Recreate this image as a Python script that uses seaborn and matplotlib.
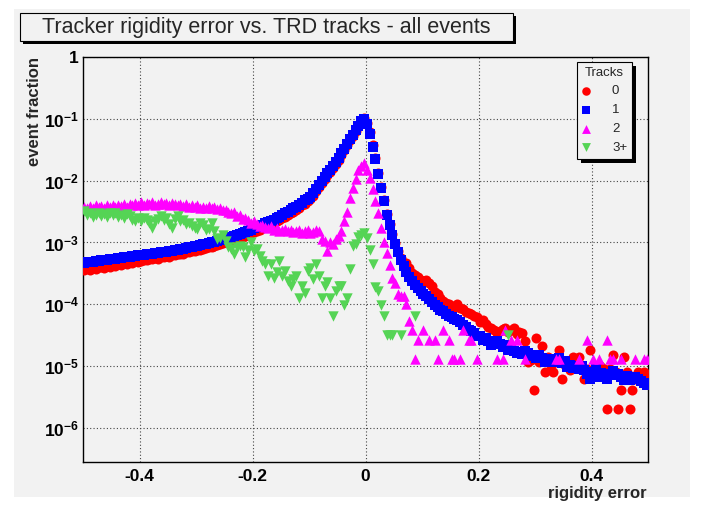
import numpy as np
import pandas as pd
import matplotlib
matplotlib.use("Agg")
import matplotlib.pyplot as plt
import seaborn as sns
from matplotlib.patches import Rectangle
from matplotlib.ticker import FixedLocator, NullFormatter, FuncFormatter, MultipleLocator

N = np.nan

# ---- histogram binning (200 bins over rigidity error -0.5 .. 0.5) ----
bin_edges = np.linspace(-0.5, 0.5, 201)
bin_centers = 0.5 * (bin_edges[:-1] + bin_edges[1:])

# ---- event fraction per bin, stored as log10(value); NaN = empty bin ----
tracks0_log10 = [
    -3.45, -3.42, -3.44, -3.41, -3.43, -3.40, -3.39, -3.41, -3.38, -3.39,
    -3.36, -3.38, -3.35, -3.36, -3.33, -3.35, -3.32, -3.33, -3.30, -3.31,
    -3.30, -3.28, -3.29, -3.27, -3.27, -3.25, -3.26, -3.24, -3.24, -3.22,
    -3.23, -3.21, -3.21, -3.19, -3.19, -3.18, -3.16, -3.16, -3.14, -3.14,
    -3.12, -3.12, -3.10, -3.09, -3.08, -3.07, -3.06, -3.04, -3.03, -3.01,
    -3.00, -2.98, -2.98, -2.95, -2.95, -2.92, -2.91, -2.89, -2.87, -2.85,
    -2.83, -2.81, -2.79, -2.77, -2.75, -2.72, -2.71, -2.68, -2.66, -2.63,
    -2.61, -2.58, -2.55, -2.53, -2.50, -2.47, -2.44, -2.40, -2.37, -2.33,
    -2.30, -2.24, -2.17, -2.11, -2.04, -1.97, -1.91, -1.86, -1.80, -1.73,
    -1.66, -1.58, -1.50, -1.42, -1.35, -1.27, -1.19, -1.11, -1.03, -0.99,
    -1.06, -1.22, -1.42, -1.63, -1.88, -2.10, -2.31, -2.54, -2.70, -2.86,
    -3.01, -3.14, -3.25, -3.35, -3.33, -3.42, -3.50, -3.53, -3.56, -3.60,
    -3.62, -3.60, -3.66, -3.70, -3.80, -3.83, -3.90, -3.95, -3.98, -4.00,
    -4.03, -4.04, -4.00, -4.06, -4.08, -4.12, -4.14, -4.16, -4.19, -4.20,
    -4.29, -4.26, -4.32, -4.36, -4.38, -4.42, -4.46, -4.43, -4.40, -4.38,
    -4.45, -4.42, -4.38, -4.48, -4.45, -4.47, -4.60, -4.93, -4.90, -5.39,
    -4.55, -4.93, -4.68, -5.09, -4.85, -4.98, -5.09, -4.93, -4.74, -5.20,
    -4.98, -4.93, -5.07, -4.85, -4.93, -4.85, -5.04, -5.20, -5.04, -4.74,
    -5.09, -5.04, -4.98, -5.01, -5.04, -5.69, -5.04, -4.82, -5.09, -5.69,
    -5.39, -4.85, -5.09, -5.69, -5.39, -5.20, -5.09, -5.15, -5.09, -5.20,
]
tracks1_log10 = [
    -3.33, -3.32, -3.32, -3.31, -3.30, -3.30, -3.29, -3.28, -3.28, -3.27,
    -3.26, -3.26, -3.25, -3.25, -3.24, -3.24, -3.23, -3.22, -3.22, -3.21,
    -3.21, -3.20, -3.19, -3.19, -3.18, -3.17, -3.17, -3.16, -3.15, -3.15,
    -3.14, -3.13, -3.12, -3.12, -3.11, -3.10, -3.09, -3.08, -3.07, -3.06,
    -3.05, -3.04, -3.03, -3.02, -3.01, -3.00, -2.99, -2.97, -2.96, -2.95,
    -2.93, -2.92, -2.91, -2.89, -2.88, -2.86, -2.85, -2.83, -2.81, -2.79,
    -2.77, -2.75, -2.73, -2.71, -2.69, -2.67, -2.65, -2.63, -2.61, -2.58,
    -2.56, -2.53, -2.50, -2.48, -2.45, -2.42, -2.39, -2.36, -2.32, -2.29,
    -2.26, -2.20, -2.13, -2.07, -2.00, -1.94, -1.88, -1.83, -1.77, -1.70,
    -1.63, -1.56, -1.48, -1.40, -1.33, -1.26, -1.18, -1.11, -1.04, -1.00,
    -1.08, -1.25, -1.45, -1.65, -1.90, -2.12, -2.33, -2.56, -2.72, -2.88,
    -3.03, -3.16, -3.28, -3.38, -3.47, -3.55, -3.62, -3.68, -3.73, -3.79,
    -3.84, -3.87, -3.91, -3.97, -4.01, -4.05, -4.09, -4.11, -4.15, -4.19,
    -4.20, -4.23, -4.26, -4.28, -4.33, -4.36, -4.41, -4.43, -4.47, -4.51,
    -4.52, -4.57, -4.55, -4.60, -4.66, -4.63, -4.60, -4.64, -4.69, -4.66,
    -4.74, -4.72, -4.76, -4.78, -4.77, -4.80, -4.76, -4.79, -4.84, -4.82,
    -4.86, -4.82, -4.87, -4.93, -4.88, -4.90, -4.93, -4.89, -4.87, -4.95,
    -4.92, -5.01, -4.98, -5.03, -4.99, -5.04, -5.00, -5.06, -5.12, -5.20,
    -5.10, -5.05, -5.17, -5.11, -5.14, -5.20, -5.13, -5.08, -5.15, -5.12,
    -5.18, -5.23, -5.16, -5.23, -5.19, -5.17, -5.20, -5.24, -5.28, -5.31,
]
tracks2_log10 = [
    -2.42, -2.45, -2.41, -2.44, -2.40, -2.43, -2.41, -2.44, -2.39, -2.42,
    -2.40, -2.43, -2.39, -2.41, -2.37, -2.42, -2.38, -2.40, -2.36, -2.39,
    -2.35, -2.39, -2.36, -2.38, -2.35, -2.39, -2.37, -2.35, -2.38, -2.36,
    -2.39, -2.36, -2.38, -2.40, -2.37, -2.41, -2.38, -2.42, -2.40, -2.43,
    -2.40, -2.44, -2.42, -2.45, -2.41, -2.44, -2.43, -2.46, -2.44, -2.48,
    -2.47, -2.51, -2.53, -2.51, -2.57, -2.56, -2.62, -2.60, -2.64, -2.68,
    -2.66, -2.70, -2.73, -2.71, -2.75, -2.76, -2.74, -2.79, -2.77, -2.81,
    -2.80, -2.78, -2.82, -2.80, -2.83, -2.81, -2.79, -2.84, -2.82, -2.80,
    -2.85, -2.83, -2.79, -2.82, -2.95, -2.97, -3.14, -3.00, -3.03, -2.95,
    -2.90, -2.82, -2.65, -2.51, -2.28, -2.12, -1.98, -1.82, -1.76, -1.72,
    -1.82, -1.95, -2.13, -2.33, -2.52, -2.76, -3.00, -3.17, -3.37, -3.58,
    -3.66, -3.84, -3.86, -3.86, -4.00, -4.27, -4.41, -4.89, -4.58, N,
    -4.41, N, -4.58, N, -4.58, -4.89, N, -4.41, N, -4.58,
    -4.89, -4.89, N, -4.89, -4.41, N, -4.58, -4.58, N, -4.89,
    N, N, N, N, N, N, -4.89, N, -4.89, -4.41,
    N, -4.58, N, -4.58, N, N, -4.89, N, N, N,
    N, N, N, N, N, N, N, -4.89, -4.89, N,
    N, N, N, N, N, -4.89, N, N, -4.58, N,
    -4.89, N, -4.89, N, N, -4.58, -4.89, -4.89, N, N,
    -4.89, N, N, N, N, -4.89, N, N, -4.89, -4.89,
]
tracks3_log10 = [
    -2.49, -2.56, -2.53, -2.58, -2.55, -2.52, -2.57, -2.54, -2.59, -2.53,
    -2.56, -2.52, -2.58, -2.55, -2.60, -2.54, -2.57, -2.63, -2.65, -2.60,
    -2.66, -2.61, -2.64, -2.69, -2.76, -2.66, -2.62, -2.57, -2.64, -2.60,
    -2.70, -2.76, -2.62, -2.57, -2.66, -2.64, -2.70, -2.68, -2.73, -2.76,
    -2.78, -2.68, -2.72, -2.80, -2.78, -2.68, -2.82, -2.95, -2.92, -2.88,
    -2.97, -3.08, -3.10, -3.19, -3.08, -3.05, -3.08, -3.24, -3.12, -3.00,
    -3.14, -3.10, -3.22, -3.30, -3.35, -3.54, -3.35, -3.57, -3.48, -3.30,
    -3.54, -3.46, -3.62, -3.70, -3.59, -3.54, -3.89, -3.70, -3.81, -3.46,
    -3.41, -3.59, -3.35, -3.54, -3.89, -3.70, -3.64, -3.89, -4.19, -3.78,
    -3.70, -3.70, -4.01, -3.89, -3.43, -3.05, -3.03, -2.91, -2.88, -2.84,
    -2.93, -3.12, -3.35, -3.72, -3.79, -4.01, -4.19, -4.49, -4.49, -4.49,
    N, N, -4.49, N, N, N, N, -4.19, N, N,
    N, N, N, N, N, N, N, N, N, N,
    N, N, N, N, N, N, N, N, N, N,
    N, N, N, N, N, N, N, N, N, N,
    -4.49, N, N, N, N, N, N, N, N, N,
    N, N, N, N, N, N, N, N, N, N,
    N, N, N, N, N, N, N, N, N, N,
    N, N, N, N, N, N, N, N, N, N,
    N, N, N, N, N, N, N, N, N, N,
]

track_labels = ["0", "1", "2", "3+"]
series_log10 = [tracks0_log10, tracks1_log10, tracks2_log10, tracks3_log10]
markers = ["o", "s", "^", "v"]
marker_areas = [52, 46, 56, 56]
colors = ["#ff0000", "#0000ff", "#ff00ff", "#55d455"]

x_ticks = [-0.4, -0.2, 0.0, 0.2, 0.4]
y_ticks = [1e-6, 1e-5, 1e-4, 1e-3, 1e-2, 1e-1, 1.0]
title_text = "Tracker rigidity error vs. TRD tracks - all events"
x_title = "rigidity error"
y_title = "event fraction"

BG = "#f2f2f2"
W, H = 705, 507

sns.set_style("white")
plt.rcParams["font.family"] = ["Liberation Sans", "DejaVu Sans"]
plt.rcParams["axes.unicode_minus"] = False
plt.rcParams["mathtext.fontset"] = "custom"
plt.rcParams["mathtext.rm"] = "Liberation Sans"
plt.rcParams["mathtext.bf"] = "Liberation Sans:bold"

fig = plt.figure(figsize=(W / 100, H / 100), dpi=100)
fig.patch.set_facecolor("white")

def fx(px):
    return px / W

def fy(py):
    return 1 - py / H

# canvas background
fig.patches.append(Rectangle((fx(14), fy(497)), fx(690) - fx(14), fy(9) - fy(497),
                             transform=fig.transFigure, fc=BG, ec="none", zorder=-10))

ax_l, ax_r, ax_t, ax_b = 83, 648, 57, 462
ax = fig.add_axes([fx(ax_l), fy(ax_b), fx(ax_r) - fx(ax_l), fy(ax_t) - fy(ax_b)])
ax.set_facecolor(BG)
ax.set_axisbelow(True)

for lab, logs, m, s, c in zip(track_labels, series_log10, markers, marker_areas, colors):
    df = pd.DataFrame({"rigidity_error": bin_centers,
                       "event_fraction": np.power(10.0, np.array(logs, dtype=float))}).dropna()
    sns.scatterplot(data=df, x="rigidity_error", y="event_fraction", marker=m, color=c,
                    s=s, linewidth=0, ax=ax, label=lab, zorder=3)

ax.set_yscale("log")
ax.set_xlim(-0.5, 0.5)
ax.set_ylim(10 ** -6.55, 1.0)

ax.xaxis.set_major_locator(FixedLocator(x_ticks))
ax.xaxis.set_minor_locator(MultipleLocator(0.05))
ax.xaxis.set_major_formatter(FuncFormatter(lambda v, p: "0" if abs(v) < 1e-9 else f"{v:.1f}"))
ax.yaxis.set_major_locator(FixedLocator(y_ticks))
minor_y = [m * 10.0 ** e for e in range(-7, 0) for m in range(2, 10) if m * 10.0 ** e > 10 ** -6.55]
ax.yaxis.set_minor_locator(FixedLocator(minor_y))
ax.yaxis.set_minor_formatter(NullFormatter())

def ylab(v, p):
    e = int(round(np.log10(v)))
    if e == 0:
        return "1"
    return r"$\mathbf{10^{%d}}$" % e

ax.yaxis.set_major_formatter(FuncFormatter(ylab))

ax.tick_params(which="both", direction="in", top=False, right=False, colors="black")
ax.tick_params(which="major", length=8, width=1, labelsize=12.5)
ax.tick_params(axis="x", which="major", pad=5)
ax.tick_params(axis="y", which="major", pad=3)
ax.tick_params(which="minor", length=4, width=0.8)
for lbl in ax.get_xticklabels() + ax.get_yticklabels():
    lbl.set_fontweight("bold")

ax.grid(True, which="major", linestyle=(0, (1, 2)), color="#444444", linewidth=0.8)
ax.grid(False, which="minor")
for sp in ax.spines.values():
    sp.set_color("black")
    sp.set_linewidth(1.0)
    sp.set_visible(True)

ax.set_xlabel(x_title, fontsize=12, fontweight="bold", loc="right")
ax.xaxis.set_label_coords(0.997, -0.06)
ax.set_ylabel(y_title, fontsize=12, fontweight="bold", loc="top")
ax.yaxis.set_label_coords(-0.072, 1.0)

handles, labels = ax.get_legend_handles_labels()
leg = ax.legend(handles, labels, title="Tracks", loc="upper left",
                bbox_to_anchor=(fx(577), fy(62)), bbox_transform=fig.transFigure,
                frameon=True, fancybox=False, edgecolor="black", facecolor=BG, framealpha=1,
                fontsize=9.5, title_fontsize=9.5, borderpad=0.35, handlelength=0.6,
                handletextpad=1.7, labelspacing=0.5, borderaxespad=0, scatterpoints=1,
                markerscale=0.85)
leg.get_frame().set_linewidth(0.8)
leg.set_zorder(10)

# title box with shadow
tb_l, tb_r, tb_t, tb_b = 20, 513, 12.5, 40.5
fig.patches.append(Rectangle((fx(tb_l + 3), fy(tb_b + 3)), fx(tb_r) - fx(tb_l), fy(tb_t) - fy(tb_b),
                             transform=fig.transFigure, fc="black", ec="none", zorder=1))
fig.patches.append(Rectangle((fx(tb_l), fy(tb_b)), fx(tb_r) - fx(tb_l), fy(tb_t) - fy(tb_b),
                             transform=fig.transFigure, fc=BG, ec="black", lw=0.8, zorder=2))
fig.text(fx((tb_l + tb_r) / 2), fy((tb_t + tb_b) / 2 + 0.5), title_text, ha="center", va="center",
         fontsize=15.5, zorder=3)

# legend shadow
fig.canvas.draw()
bb = leg.get_window_extent()
sh = Rectangle(((bb.x0 + 4) / W, (bb.y0 - 4) / H), bb.width / W, bb.height / H,
               transform=fig.transFigure, fc="black", ec="none", zorder=9, clip_on=False)
ax.add_artist(sh)

fig.savefig("out.png", dpi=100, facecolor=fig.get_facecolor())
